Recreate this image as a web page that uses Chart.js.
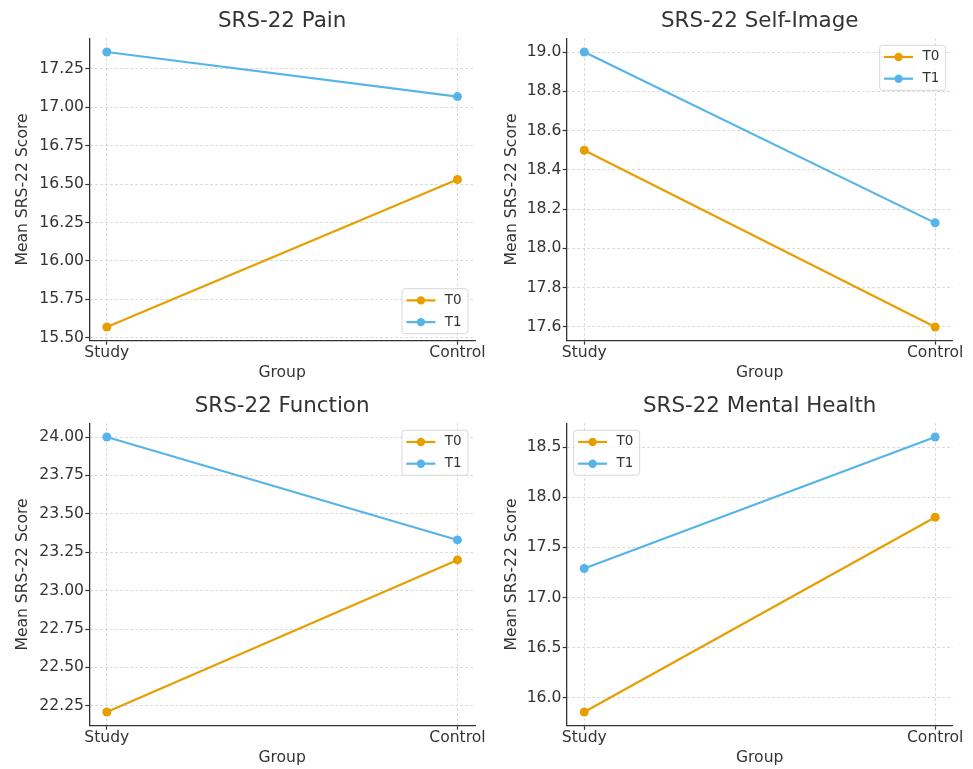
<!DOCTYPE html>
<html>
<head>
<meta charset="utf-8">
<title>SRS-22 scores</title>
<script src="https://cdn.jsdelivr.net/npm/chart.js@4.4.0/dist/chart.umd.min.js"></script>
<style>
  body { margin: 0; background: #fff; overflow: hidden; }
  #wrap { position: relative; width: 973px; height: 769px; }
  canvas { position: absolute; }
</style>
</head>
<body>
<div id="wrap">
  <canvas id="painChart" width="490" height="385" style="left:0;top:0"></canvas>
  <canvas id="selfImageChart" width="483" height="385" style="left:490px;top:0"></canvas>
  <canvas id="functionChart" width="490" height="385" style="left:0;top:385px"></canvas>
  <canvas id="mentalChart" width="483" height="385" style="left:490px;top:385px"></canvas>
</div>
<script>
// Dữ liệu
const groups = ['Study', 'Control'];
const seriesNames = ['T0', 'T1'];
const seriesColors = ['#E69F00', '#56B4E9'];

const painT0 = [15.57, 16.53];
const painT1 = [17.36, 17.07];
const painTicks = [15.5, 15.75, 16.0, 16.25, 16.5, 16.75, 17.0, 17.25];

const selfImageT0 = [18.5, 17.6];
const selfImageT1 = [19.0, 18.13];
const selfImageTicks = [17.6, 17.8, 18.0, 18.2, 18.4, 18.6, 18.8, 19.0];

const functionT0 = [22.21, 23.2];
const functionT1 = [24.0, 23.33];
const functionTicks = [22.25, 22.5, 22.75, 23.0, 23.25, 23.5, 23.75, 24.0];

const mentalT0 = [15.86, 17.8];
const mentalT1 = [17.29, 18.6];
const mentalTicks = [16.0, 16.5, 17.0, 17.5, 18.0, 18.5];

Chart.defaults.font.family = 'DejaVu Sans';
Chart.defaults.color = '#333';

// Legend kiểu hộp, vẽ bên trong vùng biểu đồ
const boxLegend = {
    id: 'boxLegend',
    afterDatasetsDraw(chart, args, opts) {
        const ctx = chart.ctx;
        const area = chart.chartArea;
        const w = 66, h = 45, gap = 7;
        const x = opts.corner.includes('w') ? area.left + gap : area.right - gap - w;
        const y = opts.corner.includes('n') ? area.top + gap : area.bottom - gap - h;
        ctx.save();
        ctx.beginPath();
        ctx.roundRect(x, y, w, h, 3);
        ctx.fillStyle = 'rgba(255,255,255,0.8)';
        ctx.fill();
        ctx.strokeStyle = '#d8d8d8';
        ctx.lineWidth = 1;
        ctx.stroke();
        chart.data.datasets.forEach((ds, i) => {
            const cy = y + 11.7 + i * 21.7;
            ctx.strokeStyle = ds.borderColor;
            ctx.lineWidth = 2.2;
            ctx.beginPath();
            ctx.moveTo(x + 4.4, cy);
            ctx.lineTo(x + 33.4, cy);
            ctx.stroke();
            ctx.fillStyle = ds.borderColor;
            ctx.beginPath();
            ctx.arc(x + 18.9, cy, 4.2, 0, Math.PI * 2);
            ctx.fill();
            ctx.fillStyle = '#333';
            ctx.font = '13.5px "DejaVu Sans"';
            ctx.textBaseline = 'middle';
            ctx.fillText(ds.label, x + 42.7, cy);
        });
        ctx.restore();
    }
};

// Hàm khởi tạo một biểu đồ điểm SRS-22
function initScoreChart(canvasId, title, t0, t1, yTicks, decimals, yAxisWidth, yTitlePad, rightPad, legendCorner) {
    const ctx = document.getElementById(canvasId).getContext('2d');
    const lo = Math.min(...t0, ...t1);
    const hi = Math.max(...t0, ...t1);
    const margin = (hi - lo) * 0.05;
    const toPoints = vals => vals.map((v, i) => ({ x: i, y: v }));

    const gridStyle = {
        color: '#cacaca',
        lineWidth: 0.8,
        tickColor: '#333',
        tickLength: 4,
        tickWidth: 1.2,
        tickBorderDash: []
    };
    // trong v4, border.dash là nét đứt của đường lưới
    const borderStyle = { color: '#333', width: 1.3, dash: [2.5, 2.5] };

    new Chart(ctx, {
        type: 'line',
        data: {
            datasets: [t0, t1].map((vals, i) => ({
                label: seriesNames[i],
                data: toPoints(vals),
                borderColor: seriesColors[i],
                backgroundColor: seriesColors[i],
                borderWidth: 2.2,
                pointRadius: 4.5,
                pointBorderWidth: 0,
                pointBackgroundColor: seriesColors[i]
            }))
        },
        options: {
            responsive: false,
            animation: false,
            layout: { padding: { left: 0, top: 0, bottom: 0, right: rightPad } },
            plugins: {
                legend: { display: false },
                tooltip: { enabled: false },
                title: {
                    display: true,
                    text: title,
                    fullSize: false,
                    color: '#333',
                    font: { size: 21.4, weight: 'normal' },
                    padding: { top: 9, bottom: 3.6 }
                },
                boxLegend: { corner: legendCorner }
            },
            scales: {
                x: {
                    type: 'linear',
                    min: -0.05,
                    max: 1.05,
                    bounds: 'data',
                    afterBuildTicks: s => { s.ticks = groups.map((g, i) => ({ value: i })); },
                    afterFit: s => { s.height = 44.3; },
                    ticks: {
                        padding: 0,
                        font: { size: 15.6, lineHeight: 1 },
                        color: '#333',
                        maxRotation: 0,
                        callback: v => groups[v]
                    },
                    grid: gridStyle,
                    border: borderStyle,
                    title: {
                        display: true,
                        text: 'Group',
                        color: '#333',
                        font: { size: 15.6 },
                        padding: { top: 0, bottom: 2.4 }
                    }
                },
                y: {
                    min: lo - margin,
                    max: hi + margin,
                    bounds: 'data',
                    afterBuildTicks: s => { s.ticks = yTicks.map(v => ({ value: v })); },
                    afterFit: s => { s.width = yAxisWidth; },
                    ticks: {
                        padding: 1.3,
                        font: { size: 15.6, lineHeight: 1 },
                        color: '#333',
                        callback: v => v.toFixed(decimals)
                    },
                    grid: gridStyle,
                    border: borderStyle,
                    title: {
                        display: true,
                        text: 'Mean SRS-22 Score',
                        color: '#333',
                        font: { size: 15.6 },
                        padding: { top: yTitlePad, bottom: 0 }
                    }
                }
            }
        },
        plugins: [boxLegend]
    });
}

initScoreChart('painChart', 'SRS-22 Pain', painT0, painT1, painTicks, 2, 89.3, 14, 15, 'se');
initScoreChart('selfImageChart', 'SRS-22 Self-Image', selfImageT0, selfImageT1, selfImageTicks, 1, 76.7, 12.4, 20.3, 'ne');
initScoreChart('functionChart', 'SRS-22 Function', functionT0, functionT1, functionTicks, 2, 89.3, 14, 15, 'ne');
initScoreChart('mentalChart', 'SRS-22 Mental Health', mentalT0, mentalT1, mentalTicks, 1, 76.7, 12.4, 20.3, 'nw');
</script>
</body>
</html>
